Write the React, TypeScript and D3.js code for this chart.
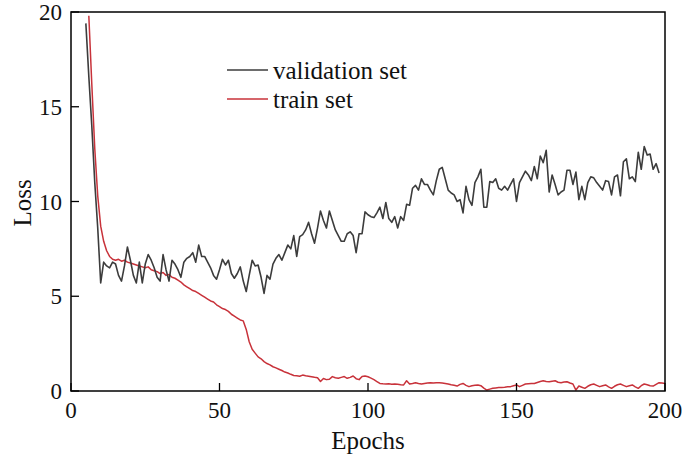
import React from "react";
import * as d3 from "d3";

const W = 684;
const H = 468;

const xTicks = [0, 50, 100, 150, 200];
const yTicks = [0, 5, 10, 15, 20];

const valStart = 5;
const validationLoss = [
  19.4, 16.6, 14.0, 11.0, 8.6, 5.7,
  6.8, 6.6, 6.5, 6.8, 6.7, 6.1, 5.8, 6.6, 7.6, 6.9,
  6.1, 5.7, 6.8, 5.7, 6.7, 7.2, 6.9, 6.5, 6.0, 5.8,
  7.2, 6.4, 5.8, 6.9, 6.7, 6.4, 6.0, 6.8, 7.0, 7.1,
  7.3, 6.8, 7.7, 7.1, 7.1, 6.8, 6.5, 6.1, 5.9, 6.4,
  6.95, 6.65, 6.9, 6.2, 5.95, 6.2, 6.55, 5.8, 5.25, 6.1,
  6.9, 6.6, 6.65, 6.0, 5.15, 6.1, 5.9, 6.7, 7.0, 7.2,
  6.9, 7.3, 7.7, 7.5, 8.2, 7.1, 8.15, 8.25, 8.5, 8.9,
  8.3, 7.8, 8.6, 9.5, 9.0, 8.6, 9.5, 9.0, 8.5, 8.2,
  7.9, 7.9, 8.3, 8.4, 8.2, 7.3, 8.3, 8.3, 9.45, 9.3,
  9.2, 9.15, 9.4, 9.7, 9.1, 9.95, 9.1, 8.9, 9.2, 8.6,
  9.2, 9.0, 9.85, 9.8, 10.7, 10.85, 10.6, 11.2, 10.9, 10.9,
  10.6, 10.35, 11.1, 11.7, 11.8, 11.2, 10.6, 10.45, 10.35, 10.0,
  10.1, 9.4, 10.8, 10.1, 9.8, 11.0, 11.3, 11.7, 9.7, 9.7,
  11.05, 11.0, 11.2, 10.7, 10.6, 10.8, 10.6, 10.9, 11.2, 10.0,
  11.0, 11.3, 11.6, 11.4, 11.1, 11.85, 11.2, 12.4, 12.05, 12.7,
  10.5, 11.4, 10.9, 10.35, 10.5, 10.6, 11.65, 11.65, 10.9, 11.55,
  10.1, 10.8, 10.1, 11.0, 11.3, 11.25, 11.0, 10.8, 10.6, 11.1,
  11.05, 10.35, 11.3, 11.4, 10.3, 12.1, 12.25, 11.2, 11.3, 11.05,
  12.6, 11.7, 12.9, 12.45, 12.5, 11.7, 12.0, 11.5,
];

const trainStart = 6;
const trainLoss = [
  19.8, 16.2, 12.8, 10.3, 8.7, 7.9, 7.4, 7.1, 6.95,
  6.9, 6.95, 6.85, 6.9, 6.8, 6.75, 6.7, 6.65, 6.6, 6.55,
  6.5, 6.55, 6.4, 6.35, 6.3, 6.2, 6.25, 6.1, 6.15, 6.0,
  5.95, 5.85, 5.75, 5.6, 5.5, 5.4, 5.3, 5.25, 5.15, 5.05,
  4.95, 4.85, 4.75, 4.7, 4.55, 4.45, 4.35, 4.3, 4.2, 4.05,
  3.95, 3.85, 3.75, 3.7, 3.25, 2.6, 2.2, 2.0, 1.8, 1.7,
  1.55, 1.45, 1.38, 1.28, 1.22, 1.15, 1.08, 1.0, 0.95, 0.88,
  0.82, 0.8, 0.78, 0.84, 0.8, 0.78, 0.75, 0.72, 0.7, 0.5,
  0.66, 0.6, 0.62, 0.76, 0.7, 0.67, 0.72, 0.76, 0.67, 0.72,
  0.79, 0.65, 0.6, 0.76, 0.79, 0.75, 0.68, 0.6, 0.5, 0.4,
  0.38, 0.37, 0.38, 0.36, 0.37, 0.35, 0.33, 0.32, 0.54, 0.37,
  0.4, 0.44, 0.4, 0.37, 0.4, 0.42, 0.44, 0.42, 0.44, 0.44,
  0.42, 0.4, 0.37, 0.33, 0.3, 0.26, 0.35, 0.4, 0.3, 0.23,
  0.28, 0.3, 0.32, 0.28, 0.15, 0.05, 0.1, 0.14, 0.16, 0.18,
  0.19, 0.2, 0.22, 0.23, 0.28, 0.32, 0.23, 0.3, 0.37, 0.38,
  0.39, 0.4, 0.45, 0.5, 0.54, 0.5, 0.49, 0.52, 0.54, 0.46,
  0.44, 0.47, 0.49, 0.42, 0.37, 0.05, 0.26, 0.2, 0.14, 0.25,
  0.33, 0.37, 0.3, 0.23, 0.28, 0.32, 0.22, 0.14, 0.25, 0.33,
  0.37, 0.3, 0.23, 0.28, 0.32, 0.22, 0.14, 0.28, 0.37, 0.33,
  0.28, 0.26, 0.35, 0.44, 0.42, 0.4,
];

const seriesNames = ["validation set", "train set"];
const seriesColors = ["#3c3c3c", "#c8323a"];

const FONT = "'Liberation Serif', 'Times New Roman', serif";

export default function App() {
  const left = 71;
  const right = 665;
  const top = 12;
  const bottom = 391;

  const x = d3.scaleLinear().domain([0, 200]).range([left, right]);
  const y = d3.scaleLinear().domain([0, 20]).range([bottom, top]);

  const line = d3
    .line<[number, number]>()
    .x((d) => x(d[0]))
    .y((d) => y(d[1]));

  const valPts: [number, number][] = validationLoss.map((v, i) => [valStart + i, v]);
  const trainPts: [number, number][] = trainLoss.map((v, i) => [trainStart + i, v]);

  const tickLen = 8;

  return (
    <svg
      width={W}
      height={H}
      style={{ position: "absolute", left: 0, top: 0, background: "#fff" }}
      fontFamily={FONT}
    >
      <rect x={0} y={0} width={W} height={H} fill="#fff" />
      <path d={line(trainPts) || ""} fill="none" stroke={seriesColors[1]} strokeWidth={1.5} strokeLinejoin="round" />
      <path d={line(valPts) || ""} fill="none" stroke={seriesColors[0]} strokeWidth={1.6} strokeLinejoin="round" />

      <rect
        x={left}
        y={top}
        width={right - left}
        height={bottom - top}
        fill="none"
        stroke="#000"
        strokeWidth={1.5}
      />

      {xTicks.map((t) => (
        <g key={"x" + t}>
          <line x1={x(t)} x2={x(t)} y1={bottom} y2={bottom - tickLen} stroke="#000" strokeWidth={1.3} />
          <text x={x(t)} y={418} textAnchor="middle" fontSize={23} fill="#111">
            {t}
          </text>
        </g>
      ))}
      {yTicks.map((t) => (
        <g key={"y" + t}>
          <line x1={left} x2={left + tickLen} y1={y(t)} y2={y(t)} stroke="#000" strokeWidth={1.3} />
          <text x={62} y={y(t) + 8} textAnchor="end" fontSize={23} fill="#111">
            {t}
          </text>
        </g>
      ))}

      <text x={368} y={449} textAnchor="middle" fontSize={25} fill="#111">
        Epochs
      </text>
      <text
        transform={`translate(31, 203) rotate(-90)`}
        textAnchor="middle"
        fontSize={25}
        fill="#111"
      >
        Loss
      </text>

      {seriesNames.map((n, i) => (
        <g key={n}>
          <line x1={227} x2={268} y1={70 + i * 29} y2={70 + i * 29} stroke={seriesColors[i]} strokeWidth={1.5} />
          <text x={273} y={79 + i * 29} fontSize={25} fill="#111">
            {n}
          </text>
        </g>
      ))}
    </svg>
  );
}
